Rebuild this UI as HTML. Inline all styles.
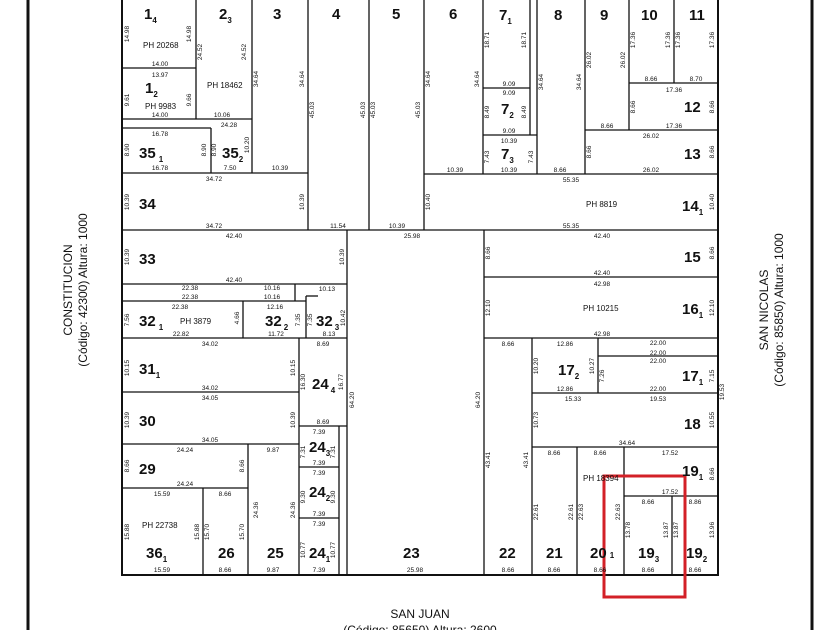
<!DOCTYPE html>
<html><head><meta charset="utf-8"><style>
html,body{margin:0;padding:0;background:#fff;}
svg{display:block;}
text{font-family:"Liberation Sans",sans-serif;fill:#111;}
.d{font-size:6.5px;}
.n{font-size:15px;font-weight:bold;}
.s{font-size:8px;font-weight:bold;}
.p{font-size:8px;}
.st{font-size:12px;}
</style></head><body>
<svg width="840" height="630" viewBox="0 0 840 630" xmlns="http://www.w3.org/2000/svg">
<g stroke="#111" fill="none">
<line x1="28" y1="0" x2="28" y2="630" stroke-width="3"/>
<line x1="812" y1="0" x2="812" y2="630" stroke-width="3"/>
<rect x="122" y="-5" width="596" height="580" stroke-width="2"/>
</g>
<g stroke="#111" stroke-width="1.3" fill="none">
<line x1="196" y1="0" x2="196" y2="119"/>
<line x1="252" y1="0" x2="252" y2="173"/>
<line x1="308" y1="0" x2="308" y2="230"/>
<line x1="369" y1="0" x2="369" y2="230"/>
<line x1="424" y1="0" x2="424" y2="230"/>
<line x1="122" y1="68" x2="196" y2="68"/>
<line x1="122" y1="119" x2="252" y2="119"/>
<line x1="122" y1="128" x2="211" y2="128"/>
<line x1="211" y1="128" x2="211" y2="173"/>
<line x1="122" y1="173" x2="308" y2="173"/>
<line x1="122" y1="230" x2="718" y2="230"/>
<line x1="483" y1="0" x2="483" y2="174"/>
<line x1="530" y1="0" x2="530" y2="135"/>
<line x1="537" y1="0" x2="537" y2="174"/>
<line x1="585" y1="0" x2="585" y2="174"/>
<line x1="629" y1="0" x2="629" y2="130"/>
<line x1="674" y1="0" x2="674" y2="83"/>
<line x1="483" y1="88" x2="530" y2="88"/>
<line x1="483" y1="135" x2="537" y2="135"/>
<line x1="629" y1="83" x2="718" y2="83"/>
<line x1="585" y1="130" x2="718" y2="130"/>
<line x1="424" y1="174" x2="718" y2="174"/>
<line x1="347" y1="230" x2="347" y2="575"/>
<line x1="122" y1="284" x2="347" y2="284"/>
<line x1="122" y1="301" x2="306" y2="301"/>
<line x1="295" y1="284" x2="295" y2="301"/>
<line x1="306" y1="296" x2="306" y2="338"/>
<line x1="306" y1="296" x2="318" y2="296"/>
<line x1="243" y1="301" x2="243" y2="338"/>
<line x1="122" y1="338" x2="347" y2="338"/>
<line x1="299" y1="338" x2="299" y2="575"/>
<line x1="122" y1="392" x2="299" y2="392"/>
<line x1="122" y1="444" x2="299" y2="444"/>
<line x1="299" y1="426" x2="347" y2="426"/>
<line x1="339" y1="426" x2="339" y2="575"/>
<line x1="299" y1="467" x2="339" y2="467"/>
<line x1="299" y1="518" x2="339" y2="518"/>
<line x1="248" y1="444" x2="248" y2="575"/>
<line x1="122" y1="488" x2="248" y2="488"/>
<line x1="203" y1="488" x2="203" y2="575"/>
<line x1="484" y1="230" x2="484" y2="575"/>
<line x1="484" y1="277" x2="718" y2="277"/>
<line x1="484" y1="338" x2="718" y2="338"/>
<line x1="532" y1="338" x2="532" y2="575"/>
<line x1="598" y1="338" x2="598" y2="393"/>
<line x1="598" y1="356" x2="718" y2="356"/>
<line x1="532" y1="393" x2="718" y2="393"/>
<line x1="532" y1="447" x2="718" y2="447"/>
<line x1="577" y1="447" x2="577" y2="575"/>
<line x1="624" y1="447" x2="624" y2="575"/>
<line x1="624" y1="496" x2="718" y2="496"/>
<line x1="672" y1="496" x2="672" y2="575"/>
</g>
<rect x="604" y="476" width="81" height="121" fill="none" stroke="#d32027" stroke-width="3"/>

<g class="n">
<text x="144" y="19">1<tspan class="s" dy="4">4</tspan></text>
<text x="219" y="19">2<tspan class="s" dy="4">3</tspan></text>
<text x="273" y="19">3</text>
<text x="332" y="19">4</text>
<text x="392" y="19">5</text>
<text x="449" y="19">6</text>
<text x="499" y="20">7<tspan class="s" dy="4">1</tspan></text>
<text x="554" y="20">8</text>
<text x="600" y="20">9</text>
<text x="641" y="20">10</text>
<text x="689" y="20">11</text>
<text x="145" y="93">1<tspan class="s" dy="4">2</tspan></text>
<text x="501" y="114">7<tspan class="s" dy="4">2</tspan></text>
<text x="501" y="159">7<tspan class="s" dy="4">3</tspan></text>
<text x="684" y="112">12</text>
<text x="684" y="159">13</text>
<text x="139" y="158">35<tspan class="s" dx="3" dy="4">1</tspan></text>
<text x="222" y="158">35<tspan class="s" dy="4">2</tspan></text>
<text x="139" y="209">34</text>
<text x="682" y="211">14<tspan class="s" dy="4">1</tspan></text>
<text x="139" y="264">33</text>
<text x="684" y="262">15</text>
<text x="682" y="314">16<tspan class="s" dy="4">1</tspan></text>
<text x="139" y="326">32<tspan class="s" dx="3" dy="4">1</tspan></text>
<text x="265" y="326">32<tspan class="s" dx="2" dy="4">2</tspan></text>
<text x="316" y="326">32<tspan class="s" dx="2" dy="4">3</tspan></text>
<text x="139" y="374">31<tspan class="s" dy="4">1</tspan></text>
<text x="312" y="389">24<tspan class="s" dx="2" dy="4">4</tspan></text>
<text x="558" y="375">17<tspan class="s" dy="4">2</tspan></text>
<text x="682" y="381">17<tspan class="s" dy="4">1</tspan></text>
<text x="139" y="426">30</text>
<text x="684" y="429">18</text>
<text x="309" y="452">24<tspan class="s" dy="4">3</tspan></text>
<text x="139" y="474">29</text>
<text x="682" y="476">19<tspan class="s" dy="4">1</tspan></text>
<text x="309" y="497">24<tspan class="s" dy="4">2</tspan></text>
<text x="146" y="558">36<tspan class="s" dy="4">1</tspan></text>
<text x="218" y="558">26</text>
<text x="267" y="558">25</text>
<text x="309" y="558">24<tspan class="s" dy="4">1</tspan></text>
<text x="403" y="558">23</text>
<text x="499" y="558">22</text>
<text x="546" y="558">21</text>
<text x="590" y="558">20<tspan class="s" dx="3" dy="0">1</tspan></text>
<text x="638" y="558">19<tspan class="s" dy="4">3</tspan></text>
<text x="686" y="558">19<tspan class="s" dy="4">2</tspan></text>
</g>

<g class="p">
<text x="143" y="48">PH 20268</text>
<text x="207" y="88">PH 18462</text>
<text x="145" y="109">PH 9983</text>
<text x="586" y="207">PH 8819</text>
<text x="583" y="311">PH 10215</text>
<text x="180" y="324">PH 3879</text>
<text x="583" y="481">PH 18394</text>
<text x="142" y="528">PH 22738</text>
</g>

<g class="d" text-anchor="middle">
<text x="160" y="66">14.00</text><text x="160" y="77">13.97</text>
<text x="160" y="117">14.00</text><text x="222" y="117">10.06</text>
<text x="229" y="127">24.28</text><text x="160" y="136">16.78</text>
<text x="160" y="170">16.78</text><text x="230" y="170">7.50</text><text x="280" y="170">10.39</text>
<text x="214" y="181">34.72</text><text x="214" y="228">34.72</text>
<text x="338" y="228">11.54</text><text x="397" y="228">10.39</text><text x="412" y="238">25.98</text>
<text x="234" y="238">42.40</text><text x="234" y="282">42.40</text>
<text x="190" y="290">22.38</text><text x="190" y="299">22.38</text>
<text x="272" y="290">10.16</text><text x="272" y="299">10.16</text><text x="327" y="291">10.13</text>
<text x="180" y="309">22.38</text><text x="275" y="309">12.16</text>
<text x="181" y="336">22.82</text><text x="276" y="336">11.72</text><text x="329" y="336">8.13</text>
<text x="210" y="346">34.02</text><text x="210" y="390">34.02</text><text x="323" y="346">8.69</text>
<text x="210" y="400">34.05</text><text x="210" y="442">34.05</text><text x="323" y="424">8.69</text>
<text x="319" y="434">7.39</text><text x="319" y="465">7.39</text>
<text x="319" y="475">7.39</text><text x="319" y="516">7.39</text>
<text x="319" y="526">7.39</text><text x="319" y="572">7.39</text>
<text x="185" y="452">24.24</text><text x="185" y="486">24.24</text><text x="273" y="452">9.87</text>
<text x="162" y="496">15.59</text><text x="162" y="572">15.59</text>
<text x="225" y="496">8.66</text><text x="225" y="572">8.66</text><text x="273" y="572">9.87</text>
<text x="415" y="572">25.98</text>
<text x="508" y="572">8.66</text><text x="554" y="572">8.66</text><text x="600" y="572">8.66</text>
<text x="648" y="572">8.66</text><text x="695" y="572">8.66</text>
<text x="455" y="172">10.39</text><text x="509" y="86">9.09</text><text x="509" y="95">9.09</text>
<text x="509" y="133">9.09</text><text x="509" y="143">10.39</text><text x="509" y="172">10.39</text>
<text x="560" y="172">8.66</text><text x="607" y="128">8.66</text>
<text x="651" y="81">8.66</text><text x="696" y="81">8.70</text><text x="674" y="92">17.36</text>
<text x="674" y="128">17.36</text><text x="651" y="138">26.02</text><text x="651" y="172">26.02</text>
<text x="571" y="182">55.35</text><text x="571" y="228">55.35</text>
<text x="602" y="238">42.40</text><text x="602" y="275">42.40</text>
<text x="602" y="286">42.98</text><text x="602" y="336">42.98</text>
<text x="508" y="346">8.66</text><text x="565" y="346">12.86</text><text x="565" y="391">12.86</text>
<text x="658" y="345">22.00</text><text x="658" y="355">22.00</text><text x="658" y="363">22.00</text><text x="658" y="391">22.00</text>
<text x="573" y="401">15.33</text><text x="658" y="401">19.53</text>
<text x="627" y="445">34.64</text>
<text x="554" y="455">8.66</text><text x="600" y="455">8.66</text><text x="670" y="455">17.52</text>
<text x="670" y="494">17.52</text><text x="648" y="504">8.66</text><text x="695" y="504">8.86</text>
</g>

<g class="d" text-anchor="middle">
<text transform="translate(129,34) rotate(-90)">14.98</text>
<text transform="translate(191,34) rotate(-90)">14.98</text>
<text transform="translate(202,52) rotate(-90)">24.52</text>
<text transform="translate(246,52) rotate(-90)">24.52</text>
<text transform="translate(258,79) rotate(-90)">34.64</text>
<text transform="translate(304,79) rotate(-90)">34.64</text>
<text transform="translate(314,110) rotate(-90)">45.03</text>
<text transform="translate(365,110) rotate(-90)">45.03</text>
<text transform="translate(375,110) rotate(-90)">45.03</text>
<text transform="translate(420,110) rotate(-90)">45.03</text>
<text transform="translate(430,79) rotate(-90)">34.64</text>
<text transform="translate(479,79) rotate(-90)">34.64</text>
<text transform="translate(129,100) rotate(-90)">9.61</text>
<text transform="translate(191,100) rotate(-90)">9.66</text>
<text transform="translate(129,150) rotate(-90)">8.90</text>
<text transform="translate(206,150) rotate(-90)">8.90</text>
<text transform="translate(216,150) rotate(-90)">8.90</text>
<text transform="translate(249,145) rotate(-90)">10.20</text>
<text transform="translate(129,202) rotate(-90)">10.39</text>
<text transform="translate(304,202) rotate(-90)">10.39</text>
<text transform="translate(430,202) rotate(-90)">10.40</text>
<text transform="translate(714,202) rotate(-90)">10.40</text>
<text transform="translate(129,257) rotate(-90)">10.39</text>
<text transform="translate(344,257) rotate(-90)">10.39</text>
<text transform="translate(490,253) rotate(-90)">8.66</text>
<text transform="translate(714,253) rotate(-90)">8.66</text>
<text transform="translate(490,308) rotate(-90)">12.10</text>
<text transform="translate(714,308) rotate(-90)">12.10</text>
<text transform="translate(129,320) rotate(-90)">7.56</text>
<text transform="translate(129,368) rotate(-90)">10.15</text>
<text transform="translate(295,368) rotate(-90)">10.15</text>
<text transform="translate(129,420) rotate(-90)">10.39</text>
<text transform="translate(295,420) rotate(-90)">10.39</text>
<text transform="translate(129,466) rotate(-90)">8.66</text>
<text transform="translate(244,466) rotate(-90)">8.66</text>
<text transform="translate(129,532) rotate(-90)">15.88</text>
<text transform="translate(199,532) rotate(-90)">15.88</text>
<text transform="translate(209,532) rotate(-90)">15.70</text>
<text transform="translate(244,532) rotate(-90)">15.70</text>
<text transform="translate(258,510) rotate(-90)">24.36</text>
<text transform="translate(295,510) rotate(-90)">24.36</text>
<text transform="translate(305,382) rotate(-90)">16.30</text>
<text transform="translate(343,382) rotate(-90)">16.77</text>
<text transform="translate(354,400) rotate(-90)">64.20</text>
<text transform="translate(480,400) rotate(-90)">64.20</text>
<text transform="translate(490,460) rotate(-90)">43.41</text>
<text transform="translate(528,460) rotate(-90)">43.41</text>
<text transform="translate(538,366) rotate(-90)">10.20</text>
<text transform="translate(594,366) rotate(-90)">10.27</text>
<text transform="translate(604,376) rotate(-90)">7.26</text>
<text transform="translate(714,376) rotate(-90)">7.15</text>
<text transform="translate(538,420) rotate(-90)">10.73</text>
<text transform="translate(714,420) rotate(-90)">10.55</text>
<text transform="translate(724,392) rotate(-90)">19.53</text>
<text transform="translate(714,474) rotate(-90)">8.66</text>
<text transform="translate(538,512) rotate(-90)">22.61</text>
<text transform="translate(573,512) rotate(-90)">22.61</text>
<text transform="translate(583,512) rotate(-90)">22.63</text>
<text transform="translate(620,512) rotate(-90)">22.63</text>
<text transform="translate(630,530) rotate(-90)">13.78</text>
<text transform="translate(668,530) rotate(-90)">13.87</text>
<text transform="translate(678,530) rotate(-90)">13.87</text>
<text transform="translate(714,530) rotate(-90)">13.96</text>
<text transform="translate(305,452) rotate(-90)">7.31</text>
<text transform="translate(335,452) rotate(-90)">7.31</text>
<text transform="translate(305,497) rotate(-90)">9.30</text>
<text transform="translate(335,497) rotate(-90)">9.30</text>
<text transform="translate(305,550) rotate(-90)">10.77</text>
<text transform="translate(335,550) rotate(-90)">10.77</text>
<text transform="translate(489,40) rotate(-90)">18.71</text>
<text transform="translate(526,40) rotate(-90)">18.71</text>
<text transform="translate(489,112) rotate(-90)">8.49</text>
<text transform="translate(526,112) rotate(-90)">8.49</text>
<text transform="translate(489,157) rotate(-90)">7.43</text>
<text transform="translate(533,157) rotate(-90)">7.43</text>
<text transform="translate(543,82) rotate(-90)">34.64</text>
<text transform="translate(581,82) rotate(-90)">34.64</text>
<text transform="translate(591,60) rotate(-90)">26.02</text>
<text transform="translate(625,60) rotate(-90)">26.02</text>
<text transform="translate(635,40) rotate(-90)">17.36</text>
<text transform="translate(670,40) rotate(-90)">17.36</text>
<text transform="translate(680,40) rotate(-90)">17.36</text>
<text transform="translate(714,40) rotate(-90)">17.36</text>
<text transform="translate(635,107) rotate(-90)">8.66</text>
<text transform="translate(714,107) rotate(-90)">8.66</text>
<text transform="translate(591,152) rotate(-90)">8.66</text>
<text transform="translate(714,152) rotate(-90)">8.66</text>
<text transform="translate(300,320) rotate(-90)">7.35</text>
<text transform="translate(312,320) rotate(-90)">7.35</text>
<text transform="translate(345,318) rotate(-90)">10.42</text>
<text transform="translate(239,318) rotate(-90)">4.66</text>
</g>

<g class="st" text-anchor="middle">
<text transform="translate(72,290) rotate(-90)">CONSTITUCION</text>
<text transform="translate(87,290) rotate(-90)">(Código: 42300) Altura: 1000</text>
<text transform="translate(768,310) rotate(-90)">SAN NICOLAS</text>
<text transform="translate(783,310) rotate(-90)">(Código: 85850) Altura: 1000</text>
<text x="420" y="618">SAN JUAN</text>
<text x="420" y="634">(Código: 85650) Altura: 2600</text>
</g>
</svg>
</body></html>
